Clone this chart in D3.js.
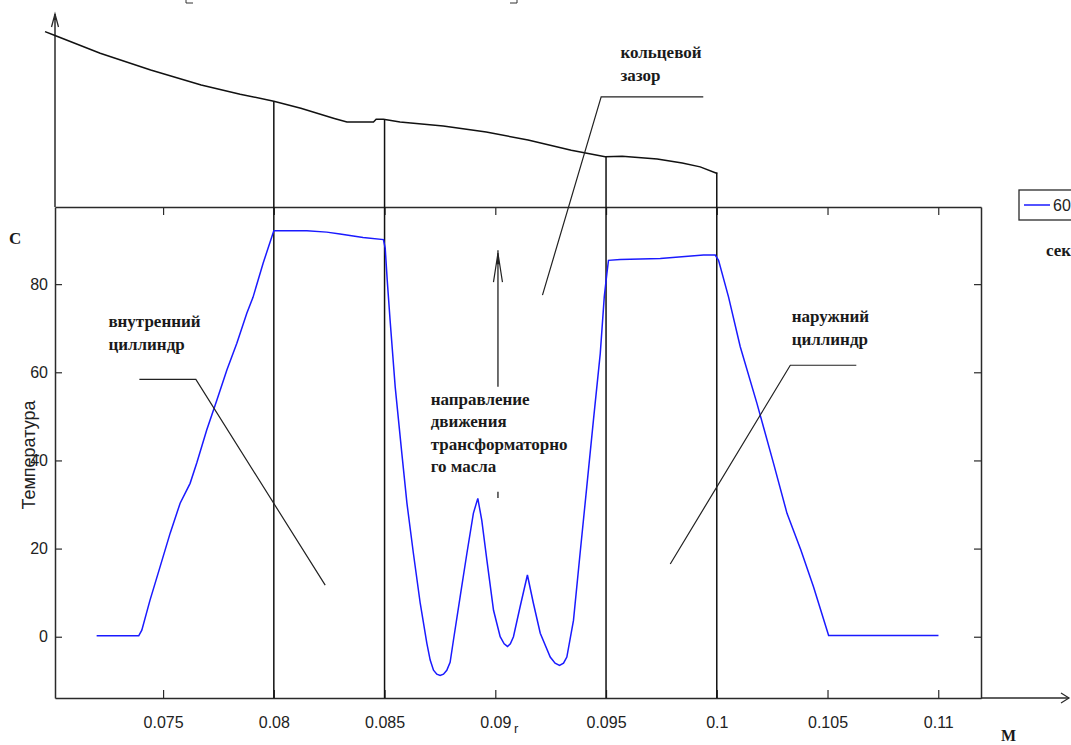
<!DOCTYPE html>
<html>
<head>
<meta charset="utf-8">
<script src="https://cdn.jsdelivr.net/npm/d3@7/dist/d3.min.js"></script>
<style>
  html, body { margin: 0; padding: 0; background: #fff; }
  svg { display: block; }
  .serif { font-family: "Liberation Serif", "Times New Roman", serif; font-weight: bold; fill: #1a1a1a; }
  .sans { font-family: "Liberation Sans", Arial, sans-serif; fill: #222; }
</style>
</head>
<body>
<svg id="chart" width="1071" height="745"></svg>
<script>
// ---------- data ----------
const xTicks = [0.075, 0.08, 0.085, 0.09, 0.095, 0.1, 0.105, 0.11];
const xTickLabels = ["0.075", "0.08", "0.085", "0.09", "0.095", "0.1", "0.105", "0.11"];
const yTicks = [0, 20, 40, 60, 80];
const yTickLabels = ["0", "20", "40", "60", "80"];
const xLimits = [0.07012, 0.11193];
const yLimits = [-13.9, 97.5];

const seriesName = "60";
// temperature profile (blue)
const radius = [0.0720, 0.0739, 0.07404, 0.07441, 0.07486, 0.07532, 0.07577, 0.07622, 0.07652, 0.07697,
  0.07743, 0.07788, 0.07833, 0.07878, 0.07906, 0.07952, 0.0800, 0.08149, 0.08239, 0.08299,
  0.08403, 0.08495, 0.08503, 0.08512, 0.08525, 0.08548, 0.08578, 0.08601, 0.0863, 0.08661,
  0.08691, 0.08706, 0.08721, 0.08736, 0.08751, 0.08766, 0.08781, 0.08796, 0.08811, 0.08841,
  0.08872, 0.08901, 0.08921, 0.08939, 0.08962, 0.08992, 0.09022, 0.09040, 0.09055, 0.09068,
  0.09082, 0.09112, 0.09145, 0.09172, 0.09203, 0.09248, 0.09270, 0.0929, 0.09308, 0.09323,
  0.09353, 0.09383, 0.09413, 0.09443, 0.09474, 0.09492, 0.09504, 0.09511, 0.09564, 0.09745,
  0.0994, 0.09993, 0.10008, 0.10053, 0.10106, 0.10181, 0.10256, 0.10317, 0.1038, 0.10437,
  0.10505, 0.11001];
const temperature = [0.2, 0.2, 1.5, 8.3, 15.8, 23.5, 30.3, 34.8, 39.4, 46.9,
  53.7, 60.5, 66.6, 73.4, 77.0, 84.8, 92.1, 92.1, 91.8, 91.4,
  90.6, 90.1, 88.1, 80.9, 71.8, 56.7, 41.6, 30.3, 19.0, 7.6,
  -1.5, -5.3, -7.6, -8.5, -8.8, -8.5, -7.6, -5.8, -0.8, 9.0,
  19.0, 28.0, 31.4, 26.4, 17.4, 6.0, 0.0, -1.6, -2.2, -1.6,
  0.0, 6.8, 14.0, 7.6, 0.8, -4.6, -6.0, -6.5, -6.0, -4.6,
  3.7, 19.0, 34.0, 49.1, 64.3, 77.1, 82.5, 85.4, 85.6, 85.8,
  86.6, 86.6, 85.4, 77.1, 65.8, 53.0, 39.4, 28.0, 19.6, 11.3,
  0.3, 0.3];

// upper sketched wall profile (black), same units
const profileR = [0.06967, 0.07012, 0.07216, 0.07444, 0.07672, 0.07848, 0.0800, 0.08122, 0.08273, 0.0833,
  0.0845, 0.08462, 0.08495, 0.0857, 0.08765, 0.08959, 0.09148, 0.09343, 0.09496, 0.09573,
  0.09731, 0.09844, 0.09925, 0.10002];
const profileH = [137.3, 136.4, 132.4, 128.6, 125.2, 123.1, 121.5, 119.9, 117.6, 116.8,
  116.8, 117.4, 117.4, 116.8, 115.9, 114.5, 112.7, 110.4, 108.9, 109.0,
  108.4, 107.5, 106.6, 105.1];

// boundary verticals
const boundaryR = [0.08, 0.085, 0.095, 0.1];
const boundaryTop = [121.5, 117.4, 109.0, 105.3];

// callouts (leader lines) and labels
const innerLeaderR = [0.07393, 0.07648, 0.08232];
const innerLeaderT = [58.4, 58.4, 11.7];
const outerLeaderR = [0.1063, 0.10332, 0.0979];
const outerLeaderT = [61.6, 61.6, 16.5];
const gapLeaderR = [0.09939, 0.09478, 0.09213];
const gapLeaderT = [122.5, 122.5, 77.5];
const flowArrowR = 0.09012;
const flowArrowT = [56.7, 87.7];
const flowDashT = [32.9, 31.5];

const innerLabel = ["внутренний", "циллиндр"];
const outerLabel = ["наружний", "циллиндр"];
const gapLabel = ["кольцевой", "зазор"];
const flowLabel = ["направление", "движения", "трансформаторно", "го масла"];
const innerLabelPos = [0.07253, 70.2];
const outerLabelPos = [0.10338, 71.4];
const gapLabelPos = [0.09565, 131.3];
const flowLabelPos = [0.08708, 52.6];

// ---------- drawing ----------
const svg = d3.select("#chart");
svg.append("rect").attr("width", 1071).attr("height", 745).attr("fill", "#fff");

const x = d3.scaleLinear().domain(xLimits).range([55, 981]);
const y = d3.scaleLinear().domain(yLimits).range([698, 207]);

const ink = "#2a2a2a";

// axes with inward ticks (box style)
const gx = svg.append("g").attr("transform", `translate(0,${y(yLimits[0])})`)
  .call(d3.axisBottom(x).tickValues(xTicks).tickFormat((d, i) => xTickLabels[i])
    .tickSizeInner(-8).tickSizeOuter(0).tickPadding(19));
const gxt = svg.append("g").attr("transform", `translate(0,${y(yLimits[1])})`)
  .call(d3.axisTop(x).tickValues(xTicks).tickFormat("").tickSizeInner(-8).tickSizeOuter(0));
const gy = svg.append("g").attr("transform", `translate(${x(xLimits[0])},0)`)
  .call(d3.axisLeft(y).tickValues(yTicks).tickFormat((d, i) => yTickLabels[i])
    .tickSizeInner(-7).tickSizeOuter(0).tickPadding(7));
const gyr = svg.append("g").attr("transform", `translate(${x(xLimits[1])},0)`)
  .call(d3.axisRight(y).tickValues(yTicks).tickFormat("").tickSizeInner(-7).tickSizeOuter(0));

[gx, gxt, gy, gyr].forEach(g => {
  g.select(".domain").attr("stroke", ink).attr("stroke-width", 1.5);
  g.selectAll(".tick line").attr("stroke", ink).attr("stroke-width", 1.2);
  g.selectAll("text").attr("font-family", "Liberation Sans, Arial, sans-serif")
    .attr("font-size", 16).attr("fill", "#222");
});

// axis extensions with arrows
const x0 = x(xLimits[0]), yb = y(yLimits[0]);
svg.append("path").attr("d", `M${x0},${y(yLimits[1])}V14`).attr("stroke", ink).attr("stroke-width", 1.5).attr("fill", "none");
svg.append("path").attr("d", `M${x0 - 3.5},27L${x0},14L${x0 + 3.5},27`).attr("stroke", ink).attr("stroke-width", 1.3).attr("fill", "none");
svg.append("path").attr("d", `M${x0 - 1.5},20L${x0},14L${x0 + 1.5},20Z`).attr("fill", ink);
svg.append("path").attr("d", `M${x(xLimits[1])},${yb}H1069`).attr("stroke", ink).attr("stroke-width", 1.5).attr("fill", "none");
svg.append("path").attr("d", `M1061,${yb - 5}L1069,${yb}L1061,${yb + 5}`).attr("stroke", ink).attr("stroke-width", 1.2).attr("fill", "none");

// boundary verticals
svg.append("g").selectAll("line").data(boundaryR).join("line")
  .attr("x1", d => x(d)).attr("x2", d => x(d))
  .attr("y1", yb).attr("y2", (d, i) => y(boundaryTop[i]))
  .attr("stroke", "#111").attr("stroke-width", 1.5);

// upper profile
const profileLine = d3.line().x(d => x(d[0])).y(d => y(d[1]));
svg.append("path").datum(profileR.map((r, i) => [r, profileH[i]]))
  .attr("d", profileLine).attr("fill", "none").attr("stroke", "#111").attr("stroke-width", 1.5);

// temperature series
svg.append("path").datum(radius.map((r, i) => [r, temperature[i]]))
  .attr("d", profileLine).attr("fill", "none").attr("stroke", "#1a1aff").attr("stroke-width", 1.5);

// leader lines
[[innerLeaderR, innerLeaderT], [outerLeaderR, outerLeaderT], [gapLeaderR, gapLeaderT]].forEach(([rs, ts]) => {
  svg.append("path").datum(rs.map((r, i) => [r, ts[i]])).attr("d", profileLine)
    .attr("fill", "none").attr("stroke", "#222").attr("stroke-width", 1.2);
});

// flow arrow
const ax = x(flowArrowR);
svg.append("line").attr("x1", ax).attr("x2", ax).attr("y1", y(flowArrowT[0])).attr("y2", y(flowArrowT[1]))
  .attr("stroke", "#222").attr("stroke-width", 1.3);
svg.append("path").attr("d", `M${ax - 4.5},${y(flowArrowT[1]) + 32}L${ax},${y(flowArrowT[1]) + 3}L${ax + 4.5},${y(flowArrowT[1]) + 32}`)
  .attr("fill", "none").attr("stroke", "#222").attr("stroke-width", 1.2);
svg.append("path").attr("d", `M${ax - 1.5},${y(flowArrowT[1]) + 14}L${ax},${y(flowArrowT[1]) + 3}L${ax + 1.5},${y(flowArrowT[1]) + 14}Z`).attr("fill", "#222");
svg.append("line").attr("x1", ax).attr("x2", ax).attr("y1", y(flowDashT[0])).attr("y2", y(flowDashT[1]))
  .attr("stroke", "#222").attr("stroke-width", 1.3);

// annotation labels
function label(lines, pos) {
  const t = svg.append("text").attr("class", "serif").attr("font-size", 17)
    .attr("x", x(pos[0])).attr("y", y(pos[1]));
  lines.forEach((s, i) => t.append("tspan").attr("x", x(pos[0])).attr("dy", i === 0 ? 0 : 22.5).text(s));
}
label(innerLabel, innerLabelPos);
label(outerLabel, outerLabelPos);
label(gapLabel, gapLabelPos);
label(flowLabel, flowLabelPos);

// axis captions
svg.append("text").attr("class", "serif").attr("font-size", 17).attr("x", 9).attr("y", 244).text("С");
svg.append("text").attr("class", "serif").attr("font-size", 17).attr("x", 1046).attr("y", 256).text("сек");
svg.append("text").attr("class", "serif").attr("font-size", 16).attr("x", 1001).attr("y", 741).text("М");
svg.append("text").attr("class", "sans").attr("font-size", 13).attr("x", 514).attr("y", 733).text("r");
svg.append("text").attr("class", "sans").attr("font-size", 18)
  .attr("transform", "translate(35,455) rotate(-90)").attr("text-anchor", "middle").text("Температура");

// legend
const lg = svg.append("g");
lg.append("rect").attr("x", 1019).attr("y", 190).attr("width", 70).attr("height", 30)
  .attr("fill", "#fff").attr("stroke", ink).attr("stroke-width", 1.3);
lg.append("line").attr("x1", 1024).attr("x2", 1050).attr("y1", 205).attr("y2", 205)
  .attr("stroke", "#1a1aff").attr("stroke-width", 1.5);
lg.append("text").attr("class", "sans").attr("font-size", 16).attr("x", 1053).attr("y", 211).text(seriesName);

// clipped title bracket remnants
svg.append("path").attr("d", "M186,0V3H193").attr("stroke", "#333").attr("stroke-width", 1).attr("fill", "none");
svg.append("path").attr("d", "M510,3H517V0").attr("stroke", "#333").attr("stroke-width", 1).attr("fill", "none");
</script>
</body>
</html>
